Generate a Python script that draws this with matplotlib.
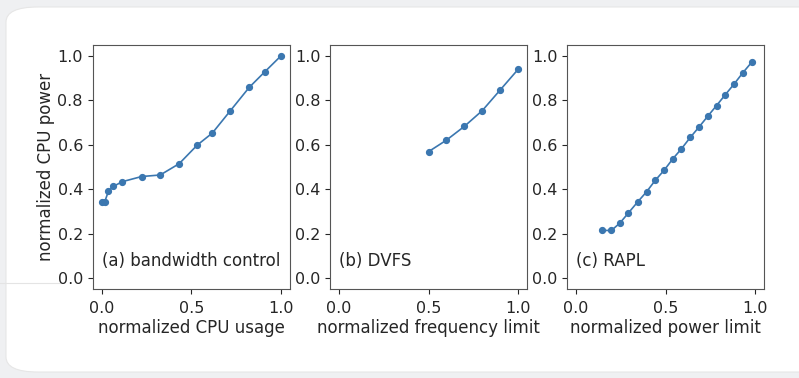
import matplotlib.pyplot as plt
from matplotlib.patches import FancyBboxPatch

# data
bw_x = [0.0, 0.017, 0.038, 0.066, 0.116, 0.223, 0.327, 0.433, 0.534, 0.618, 0.719, 0.824, 0.912, 1.0]
bw_y = [0.341, 0.343, 0.391, 0.413, 0.434, 0.457, 0.464, 0.515, 0.599, 0.653, 0.754, 0.859, 0.930, 1.0]

dvfs_x = [0.5, 0.6, 0.7, 0.8, 0.9, 1.0]
dvfs_y = [0.569, 0.621, 0.683, 0.754, 0.847, 0.940]

rapl_x = [0.143, 0.198, 0.245, 0.292, 0.345, 0.394, 0.443, 0.492, 0.541,
          0.589, 0.638, 0.687, 0.736, 0.785, 0.834, 0.883, 0.932, 0.981]
rapl_y = [0.214, 0.214, 0.247, 0.292, 0.343, 0.388, 0.440, 0.485, 0.537,
          0.582, 0.633, 0.680, 0.729, 0.777, 0.826, 0.874, 0.925, 0.972]

panels = [
    (bw_x, bw_y, "normalized CPU usage", "(a) bandwidth control"),
    (dvfs_x, dvfs_y, "normalized frequency limit", "(b) DVFS"),
    (rapl_x, rapl_y, "normalized power limit", "(c) RAPL"),
]

W, H = 799, 378
fig = plt.figure(figsize=(W / 100, H / 100), dpi=100)
fig.patch.set_facecolor("#eff0f2")

# white card behind the chart
card = FancyBboxPatch((6 / W, 6 / H), 1.2, (H - 13) / H,
                      boxstyle="round,pad=0,rounding_size=0.04",
                      transform=fig.transFigure, facecolor="white",
                      edgecolor="#e6e6e6", linewidth=0.8, zorder=-10)
fig.patches.append(card)
fig.add_artist(plt.Line2D([0, 60 / W], [1 - 283 / H] * 2, transform=fig.transFigure,
                          color="#e4e4e4", lw=0.8, zorder=-9))

color = "#3b77b0"
text_color = "#262626"
lefts = [92.7, 330, 567]
for i, (x, y, xlabel, tag) in enumerate(panels):
    ax = fig.add_axes([lefts[i] / W, 1 - 289 / H, 197 / W, 244 / H])
    ax.plot(x, y, "-o", color=color, lw=1.2, ms=4.2)
    ax.set_xlim(-0.05, 1.05)
    ax.set_ylim(-0.05, 1.05)
    ax.set_xticks([0.0, 0.5, 1.0])
    ax.set_yticks([0.0, 0.2, 0.4, 0.6, 0.8, 1.0])
    ax.tick_params(labelsize=11.5, colors=text_color, length=3.5, width=0.8)
    ax.tick_params(axis="x", pad=5)
    for s in ax.spines.values():
        s.set_color("#555555")
        s.set_linewidth(0.8)
    ax.set_xlabel(xlabel, fontsize=12, color=text_color, labelpad=2)
    ax.text(0.046, 0.095, tag, transform=ax.transAxes, fontsize=12, color=text_color)
    if i == 0:
        ax.set_ylabel("normalized CPU power", fontsize=12, color=text_color, labelpad=2)

fig.savefig("out.png", dpi=100, facecolor=fig.get_facecolor())
